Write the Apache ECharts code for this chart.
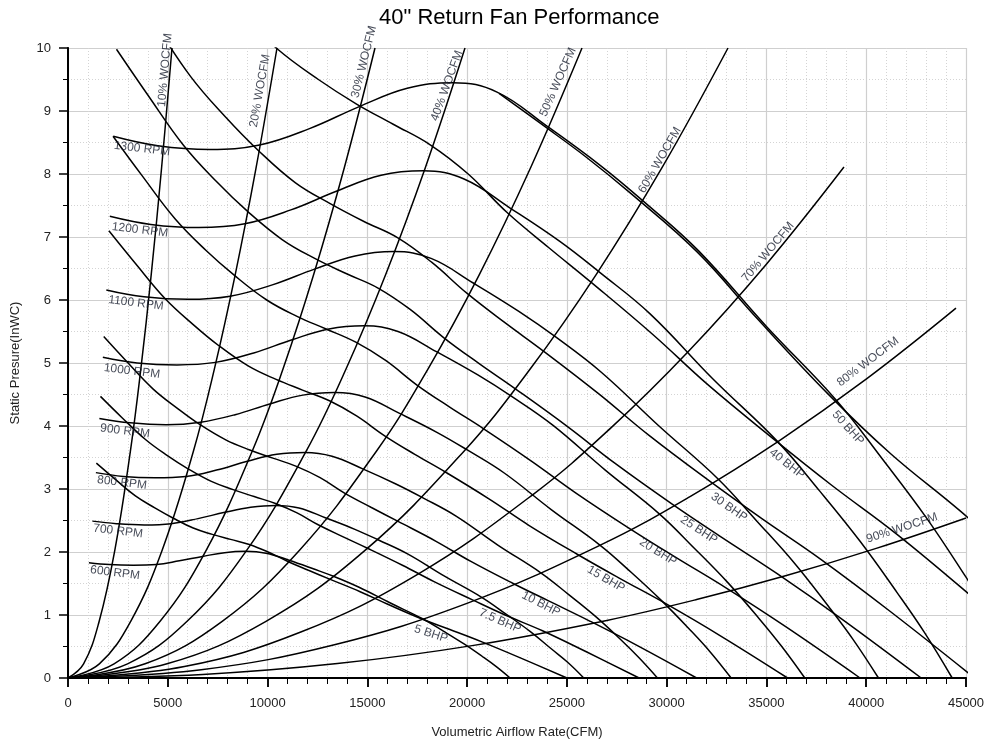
<!DOCTYPE html>
<html><head><meta charset="utf-8">
<script src="https://cdn.jsdelivr.net/npm/echarts@6/dist/echarts.min.js"></script>
<style>html,body{margin:0;padding:0;background:#fff}#c{width:989px;height:744px}</style>
</head><body><div id="c"></div>
<script>
// ---- fan speed curves (CFM, inWC) ----
const rpm1300 = [[2270,8.60],[4500,8.45],[7100,8.39],[9600,8.46],[12100,8.72],[14600,9.07],[17000,9.36],[19300,9.45],[21500,9.30],[24000,8.76],[26700,8.13],[28900,7.55],[31600,6.78],[35000,5.58],[38500,4.41],[40800,3.48],[43000,2.55],[45000,1.60],[46500,0.85],[48000,0]];
const rpm1200 = [[2095,7.33],[4154,7.20],[6554,7.15],[8862,7.21],[11169,7.43],[13477,7.73],[15692,7.98],[17815,8.05],[19846,7.92],[22154,7.46],[24646,6.93],[26677,6.43],[29169,5.78],[32308,4.75],[35538,3.76],[37662,2.97],[39692,2.17],[41538,1.36],[42923,0.72],[44308,0]];
const rpm1100 = [[1921,6.16],[3808,6.05],[6008,6.01],[8123,6.06],[10238,6.24],[12354,6.49],[14385,6.70],[16331,6.77],[18192,6.66],[20308,6.27],[22592,5.82],[24454,5.41],[26738,4.85],[29615,4.00],[32577,3.16],[34523,2.49],[36385,1.83],[38077,1.15],[39346,0.61],[40615,0]];
const rpm1000 = [[1746,5.09],[3462,5.00],[5462,4.97],[7385,5.01],[9308,5.16],[11231,5.37],[13077,5.54],[14846,5.59],[16538,5.50],[18462,5.18],[20538,4.81],[22231,4.47],[24308,4.01],[26923,3.30],[29615,2.61],[31385,2.06],[33077,1.51],[34615,0.95],[35769,0.50],[36923,0]];
const rpm900 = [[1572,4.12],[3115,4.05],[4915,4.02],[6646,4.06],[8377,4.18],[10108,4.35],[11769,4.49],[13362,4.53],[14885,4.46],[16615,4.20],[18485,3.90],[20008,3.62],[21877,3.25],[24231,2.67],[26654,2.11],[28246,1.67],[29769,1.22],[31154,0.77],[32192,0.41],[33231,0]];
const rpm800 = [[1397,3.26],[2769,3.20],[4369,3.18],[5908,3.20],[7446,3.30],[8985,3.44],[10462,3.55],[11877,3.58],[13231,3.52],[14769,3.32],[16431,3.08],[17785,2.86],[19446,2.57],[21538,2.11],[23692,1.67],[25108,1.32],[26462,0.97],[27692,0.61],[28615,0.32],[29538,0]];
const rpm700 = [[1222,2.49],[2423,2.45],[3823,2.43],[5169,2.45],[6515,2.53],[7862,2.63],[9154,2.71],[10392,2.74],[11577,2.70],[12923,2.54],[14377,2.36],[15562,2.19],[17015,1.97],[18846,1.62],[20731,1.28],[21969,1.01],[23154,0.74],[24231,0.46],[25038,0.25],[25846,0]];
const rpm600 = [[1048,1.83],[2077,1.80],[3277,1.79],[4431,1.80],[5585,1.86],[6738,1.93],[7846,1.99],[8908,2.01],[9923,1.98],[11077,1.87],[12323,1.73],[13338,1.61],[14585,1.44],[16154,1.19],[17769,0.94],[18831,0.74],[19846,0.54],[20769,0.34],[21462,0.18],[22154,0]];

// ---- brake horsepower curves ----
const bhp5 = [[1421,3.41],[2344,3.16],[3378,2.89],[4351,2.70],[5255,2.54],[6274,2.38],[7230,2.28],[8148,2.20],[9085,2.12],[10027,2.00],[11016,1.85],[12049,1.71],[13110,1.57],[14639,1.37],[16024,1.17],[17706,0.94],[19135,0.77],[20771,0.57],[22668,0.32],[25003,0]];
const bhp7_5 = [[1627,4.47],[2683,4.14],[3867,3.79],[4981,3.53],[6015,3.32],[7182,3.12],[8276,2.99],[9327,2.88],[10399,2.77],[11478,2.62],[12610,2.42],[13792,2.24],[15007,2.06],[16757,1.79],[18342,1.53],[20268,1.24],[21903,1.00],[23776,0.75],[25948,0.42],[28621,0]];
const bhp10 = [[1790,5.42],[2953,5.02],[4256,4.59],[5482,4.28],[6621,4.02],[7905,3.78],[9109,3.62],[10266,3.49],[11446,3.36],[12633,3.18],[13879,2.93],[15180,2.71],[16517,2.49],[18443,2.17],[20188,1.85],[22307,1.50],[24108,1.22],[26169,0.90],[28559,0.51],[31501,0]];
const bhp15 = [[2049,7.10],[3381,6.58],[4872,6.02],[6275,5.61],[7579,5.27],[9049,4.95],[10428,4.74],[11752,4.57],[13103,4.40],[14461,4.16],[15888,3.84],[17378,3.55],[18908,3.27],[21113,2.84],[23111,2.42],[25537,1.96],[27598,1.59],[29957,1.18],[32693,0.67],[36061,0]];
const bhp20 = [[2256,8.60],[3721,7.97],[5362,7.29],[6907,6.79],[8342,6.39],[9959,6.00],[11477,5.74],[12934,5.54],[14422,5.33],[15917,5.04],[17487,4.65],[19127,4.30],[20811,3.96],[23238,3.44],[25437,2.94],[28107,2.38],[30375,1.93],[32972,1.43],[35983,0.81],[39690,0]];
const bhp25 = [[2430,9.98],[4008,9.25],[5776,8.46],[7440,7.88],[8986,7.41],[10729,6.96],[12363,6.66],[13933,6.42],[15535,6.19],[17146,5.85],[18837,5.40],[20604,4.99],[22418,4.59],[25033,3.99],[27401,3.41],[30277,2.76],[32721,2.24],[35518,1.66],[38762,0.94],[42755,0]];
const bhp30 = [[2582,11.27],[4259,10.44],[6138,9.55],[7906,8.90],[9549,8.37],[11401,7.86],[13138,7.53],[14806,7.25],[16509,6.99],[18220,6.60],[20017,6.10],[21895,5.64],[23822,5.19],[26601,4.51],[29118,3.85],[32174,3.12],[34771,2.53],[37743,1.88],[41191,1.06],[45434,0]];
const bhp40 = [[6756,11.30],[8702,10.55],[10510,9.98],[12548,9.50],[14460,9.11],[16296,8.79],[18170,8.46],[20054,8.00],[22032,7.38],[24098,6.83],[26220,6.28],[29278,5.46],[32048,4.66],[35412,3.78],[38270,3.06],[41542,2.28],[45336,1.28],[50006,0]];
const bhp50 = [[21602,9.28],[23733,8.79],[25959,8.27],[28245,7.68],[31539,6.76],[34523,5.71],[38146,4.49],[41225,3.56],[44750,2.64],[48837,1.49]];

// ---- system curves (percent of wide open CFM) ----
const wo10 = [[0,0],[782,0.225],[1563,0.9],[2345,2.025],[3127,3.6],[3648,4.9],[4169,6.4],[4690,8.1],[5211,10]];
const wo20 = [[0,0],[1571,0.225],[3142,0.9],[4713,2.025],[6284,3.6],[7331,4.9],[8378,6.4],[9426,8.1],[10473,10]];
const wo30 = [[0,0],[2308,0.225],[4615,0.9],[6923,2.025],[9230,3.6],[10769,4.9],[12307,6.4],[13846,8.1],[15384,10]];
const wo40 = [[0,0],[2984,0.225],[5968,0.9],[8952,2.025],[11936,3.6],[13926,4.9],[15915,6.4],[17905,8.1],[19894,10]];
const wo50 = [[0,0],[3864,0.225],[7727,0.9],[11591,2.025],[15454,3.6],[18030,4.9],[20606,6.4],[23181,8.1],[25757,10]];
const wo60 = [[0,0],[4961,0.225],[9922,0.9],[14883,2.025],[19844,3.6],[23151,4.9],[26458,6.4],[29766,8.1],[33073,10]];
const wo70 = [[0,0],[5833,0.182],[11666,0.730],[17498,1.642],[23331,2.920],[27220,3.974],[31108,5.190],[34997,6.569],[38885,8.11]];
const wo80 = [[0,0],[6675,0.132],[13349,0.528],[20024,1.189],[26699,2.113],[31149,2.876],[35598,3.757],[40048,4.755],[44498,5.87]];
const wo90 = [[0,0],[6750,0.057],[13500,0.229],[20250,0.514],[27000,0.914],[31500,1.245],[36000,1.626],[40500,2.057],[45000,2.54]];

// ---- text labels: [x, y, text, rotation] ----
const rpmLabels = [[3708,8.40,'1300 RPM',-7],[3608,7.11,'1200 RPM',-7],[3407,5.95,'1100 RPM',-7],[3207,4.87,'1000 RPM',-7],[2856,3.92,'900 RPM',-7],[2706,3.10,'800 RPM',-7],[2505,2.33,'700 RPM',-7],[2355,1.67,'600 RPM',-7]];
const woLabels = [[4861,9.65,'10% WOCFM',85],[9621,9.32,'20% WOCFM',80],[14833,9.78,'30% WOCFM',76],[18992,9.40,'40% WOCFM',70],[24554,9.46,'50% WOCFM',66],[29665,8.22,'60% WOCFM',60],[35077,6.76,'70% WOCFM',50],[40088,5.02,'80% WOCFM',37],[41792,2.38,'90% WOCFM',18]];
const bhpLabels = [[18190,0.70,'5 BHP',-18],[21648,0.905,'7.5 BHP',-24],[23702,1.175,'10 BHP',-27],[26959,1.57,'15 BHP',-30],[29565,2.0,'20 BHP',-32],[31619,2.35,'25 BHP',-33],[33123,2.71,'30 BHP',-35],[36029,3.40,'40 BHP',-38],[39086,3.97,'50 BHP',-48]];

const curves = [wo10,wo20,wo30,wo40,wo50,wo60,wo70,wo80,wo90,
  rpm1300,rpm1200,rpm1100,rpm1000,rpm900,rpm800,rpm700,rpm600,
  bhp5,bhp7_5,bhp10,bhp15,bhp20,bhp25,bhp30,bhp40,bhp50];

const FONT = '"Liberation Sans", Arial, sans-serif';
const chart = echarts.init(document.getElementById('c'), null, {renderer:'canvas'});
const series = curves.map(d => ({
  type:'line', data:d, showSymbol:false, smooth:0.4, clip:true,
  lineStyle:{color:'#000', width:1.5}, silent:true, z:3
}));
const allLabels = rpmLabels.concat(woLabels, bhpLabels);
series.push({
  type:'scatter', symbolSize:0, clip:false, silent:true, z:5,
  data: allLabels.map(l => ({value:[l[0], l[1]], label:{show:true, position:'inside', formatter:l[2], rotate:l[3]}})),
  label:{show:true, color:'#141a2a', fontSize:12, fontFamily:FONT}
});

chart.setOption({
  animation:false,
  backgroundColor:'#fff',
  title:{text:'40" Return Fan Performance', left:374, top:2, textStyle:{fontFamily:FONT, fontSize:22, fontWeight:'normal', color:'#000'}},
  grid:{left:68, right:23, top:48, bottom:66},
  xAxis:[{
    type:'value', min:0, max:45000, interval:5000, position:'bottom',
    name:'Volumetric Airflow Rate(CFM)', nameLocation:'middle', nameGap:48,
    nameTextStyle:{fontFamily:FONT, fontSize:13, color:'#222'},
    axisLine:{show:true, lineStyle:{color:'#000', width:2}},
    axisTick:{show:true, inside:false, length:9, lineStyle:{color:'#000', width:1.5}},
    minorTick:{show:true, splitNumber:5, length:6, lineStyle:{color:'#000', width:1}},
    axisLabel:{fontFamily:FONT, fontSize:13, color:'#222', margin:19, formatter:v => String(v)},
    splitLine:{show:true, lineStyle:{color:'#cfcfcf', width:1.2}},
    minorSplitLine:{show:true, lineStyle:{color:'#d4d4d4', width:1, type:[1,2]}}
  },{
    type:'value', min:0, max:45000, interval:5000, position:'top',
    axisLine:{show:true, lineStyle:{color:'#000', width:1.5}},
    axisTick:{show:true, inside:true, length:9, lineStyle:{color:'#000', width:1.5}},
    minorTick:{show:true, splitNumber:5, length:6, lineStyle:{color:'#000', width:1}},
    axisLabel:{show:false}, splitLine:{show:false}
  }],
  yAxis:[{
    type:'value', min:0, max:10, interval:1, position:'left',
    name:'Static Presure(InWC)', nameLocation:'middle', nameGap:46,
    nameTextStyle:{fontFamily:FONT, fontSize:13, color:'#222'},
    axisLine:{show:true, lineStyle:{color:'#000', width:2}},
    axisTick:{show:true, inside:false, length:9, lineStyle:{color:'#000', width:1.5}},
    minorTick:{show:true, splitNumber:2, length:5, lineStyle:{color:'#000', width:1}},
    axisLabel:{fontFamily:FONT, fontSize:13, color:'#222', margin:17},
    splitLine:{show:true, lineStyle:{color:'#cfcfcf', width:1.2}},
    minorSplitLine:{show:true, lineStyle:{color:'#d4d4d4', width:1, type:[1,2]}}
  },{
    type:'value', min:0, max:10, interval:1, position:'right',
    axisLine:{show:true, lineStyle:{color:'#000', width:1.5}},
    axisTick:{show:false}, axisLabel:{show:false}, splitLine:{show:false}
  }],
  series: series
});
</script></body></html>
